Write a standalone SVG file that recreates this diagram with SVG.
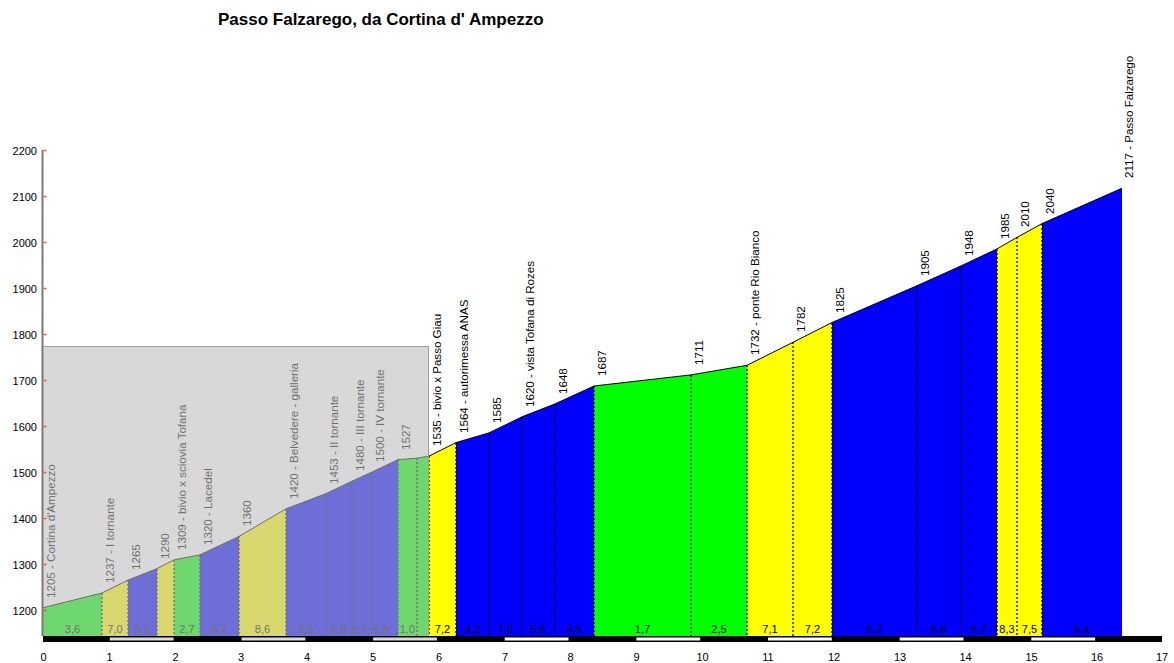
<svg xmlns="http://www.w3.org/2000/svg" width="1174" height="663" viewBox="0 0 1174 663">
<style>
text{font-family:"Liberation Sans",Arial,sans-serif;fill:#000}
.title{font-size:17px;font-weight:bold}
.yl{font-size:11px;text-anchor:end}
.xl{font-size:11px;text-anchor:middle}
.pl{font-size:11.6px}
.gl{font-size:11px;text-anchor:middle}
.g{fill:#00ff00}.y{fill:#ffff00}.b{fill:#0000ff}
.dot{stroke:#000;stroke-width:1.3;stroke-dasharray:2 2;fill:none}
.tick{stroke:#ff5050;stroke-width:1.5}
</style>
<rect width="1174" height="663" fill="#fff"/>
<text class="title" x="218" y="25">Passo Falzarego, da Cortina d' Ampezzo</text>

<g id="segments">
<polygon class="g" points="43,636 43,607.7 102,593 102,636"/>
<polygon class="y" points="102,636 102,593 128,580.1 128,636"/>
<polygon class="b" points="128,636 128,580.1 157,568.6 157,636"/>
<polygon class="y" points="157,636 157,568.6 174,559.9 174,636"/>
<polygon class="g" points="174,636 174,559.9 200,554.8 200,636"/>
<polygon class="b" points="200,636 200,554.8 239,536.4 239,636"/>
<polygon class="y" points="239,636 239,536.4 286,508.8 286,636"/>
<polygon class="b" points="286,636 286,508.8 326,493.6 352,481.2 372,472 398,459.6 398,636"/>
<polygon class="g" points="398,636 398,459.6 417,458.2 429,456.1 429,636"/>
<polygon class="y" points="429,636 429,456.1 456,442.6 456,636"/>
<polygon class="b" points="456,636 456,442.6 489,432.9 522,416.8 555,403.9 594,386 594,636"/>
<polygon class="g" points="594,636 594,386 691,374.9 747,365.3 747,636"/>
<polygon class="y" points="747,636 747,365.3 793,342.3 832,322.5 832,636"/>
<polygon class="b" points="832,636 832,322.5 917,285.7 961,265.9 997,248.9 997,636"/>
<polygon class="y" points="997,636 997,248.9 1017,237.4 1042,223.6 1042,636"/>
<polygon class="b" points="1042,636 1042,223.6 1122,188.2 1122,636"/>
</g>

<g id="connectors">
<polyline fill="none" stroke="#000" stroke-width="1" points="43,607.7 102,593 128,580.1 157,568.6 174,559.9 200,554.8 239,536.4 286,508.8 326,493.6 352,481.2 372,472 398,459.6 417,458.2 429,456.1 456,442.6 489,432.9 522,416.8 555,403.9 594,386 691,374.9 747,365.3 793,342.3 832,322.5 917,285.7 961,265.9 997,248.9 1017,237.4 1042,223.6 1122,188.2"/>
<path class="dot" d="M102,593V636M128,580V636M157,569V636M174,560V636M200,555V636M239,536V636M286,509V636M326,494V636M352,481V636M372,472V636M398,460V636M417,458V636M429,456V636M456,443V636M489,433V636M522,417V636M555,404V636M594,386V636M691,375V636M747,365V636M793,342V636M832,323V636M917,286V636M961,266V636M997,249V636M1017,237V636M1042,224V636"/>
</g>

<g id="point-labels" class="pl">
<text transform="translate(55,598) rotate(-90)">1205 - Cortina d'Ampezzo</text>
<text transform="translate(114,583) rotate(-90)">1237 - I tornante</text>
<text transform="translate(140,570) rotate(-90)">1265</text>
<text transform="translate(169,559) rotate(-90)">1290</text>
<text transform="translate(186,550) rotate(-90)">1309 - bivio x sciovia Tofana</text>
<text transform="translate(212,545) rotate(-90)">1320 - Lacedel</text>
<text transform="translate(251,526) rotate(-90)">1360</text>
<text transform="translate(298,499) rotate(-90)">1420 - Belvedere - galleria</text>
<text transform="translate(338,484) rotate(-90)">1453 - II tornante</text>
<text transform="translate(364,471) rotate(-90)">1480 - III tornante</text>
<text transform="translate(384,462) rotate(-90)">1500 - IV tornante</text>
<text transform="translate(410,450) rotate(-90)">1527</text>
<text transform="translate(441,446) rotate(-90)">1535 - bivio x Passo Giau</text>
<text transform="translate(468,433) rotate(-90)">1564 - autorimessa ANAS</text>
<text transform="translate(501,423) rotate(-90)">1585</text>
<text transform="translate(534,407) rotate(-90)">1620 - vista Tofana di Rozes</text>
<text transform="translate(567,394) rotate(-90)">1648</text>
<text transform="translate(606,376) rotate(-90)">1687</text>
<text transform="translate(703,365) rotate(-90)">1711</text>
<text transform="translate(759,355) rotate(-90)">1732 - ponte Rio Bianco</text>
<text transform="translate(805,332) rotate(-90)">1782</text>
<text transform="translate(844,313) rotate(-90)">1825</text>
<text transform="translate(929,276) rotate(-90)">1905</text>
<text transform="translate(973,256) rotate(-90)">1948</text>
<text transform="translate(1009,239) rotate(-90)">1985</text>
<text transform="translate(1029,227) rotate(-90)">2010</text>
<text transform="translate(1054,214) rotate(-90)">2040</text>
<text transform="translate(1133,178) rotate(-90)">2117 - Passo Falzarego</text>
</g>

<g id="gradient-labels" class="gl">
<text x="72.5" y="633">3,6</text>
<text x="115" y="633">7,0</text>
<text x="142.5" y="633">5,6</text>
<text x="187" y="633">2,7</text>
<text x="219.5" y="633">6,7</text>
<text x="262.5" y="633">8,6</text>
<text x="306" y="633">5,5</text>
<text x="339" y="633">6,8</text>
<text x="360" y="633">6,7</text>
<text x="381" y="633">6,8</text>
<text x="407.5" y="633">1,0</text>
<text x="442.5" y="633">7,2</text>
<text x="472.5" y="633">4,2</text>
<text x="505.5" y="633">7,0</text>
<text x="538" y="633">5,6</text>
<text x="574" y="633">6,5</text>
<text x="642.5" y="633">1,7</text>
<text x="719" y="633">2,5</text>
<text x="770" y="633">7,1</text>
<text x="812.5" y="633">7,2</text>
<text x="874.5" y="633">6,2</text>
<text x="939" y="633">6,6</text>
<text x="979" y="633">6,7</text>
<text x="1007" y="633">8,3</text>
<text x="1029.5" y="633">7,5</text>
<text x="1082" y="633">6,4</text>
</g>

<g id="overlay">
<rect x="43" y="346" width="385.5" height="290" fill="#bcbcbc" fill-opacity="0.584"/>
<path d="M43,346.5H428.5V636" fill="none" stroke="#a0a0a0" stroke-width="1"/>
</g>

<g id="y-axis">
<line x1="42.5" y1="150" x2="42.5" y2="636" stroke="#7a7a7a" stroke-width="2"/>
<path class="tick" d="M43.5,150.5h3M43.5,196.5h3M43.5,242.5h3M43.5,288.5h3M43.5,334.5h3M43.5,380.5h3M43.5,426.5h3M43.5,472.5h3M43.5,518.5h3M43.5,564.5h3M43.5,610.5h3"/>
<g class="yl">
<text x="37" y="155">2200</text>
<text x="37" y="201">2100</text>
<text x="37" y="247">2000</text>
<text x="37" y="293">1900</text>
<text x="37" y="339">1800</text>
<text x="37" y="385">1700</text>
<text x="37" y="431">1600</text>
<text x="37" y="477">1500</text>
<text x="37" y="523">1400</text>
<text x="37" y="569">1300</text>
<text x="37" y="615">1200</text>
</g>
</g>

<g id="x-axis">
<rect x="43" y="636" width="1119" height="6" fill="#000"/>
<g fill="#dcdcdc">
<rect x="109.8" y="637.5" width="63.8" height="3"/>
<rect x="241.5" y="637.5" width="63.8" height="3"/>
<rect x="373.1" y="637.5" width="63.8" height="3"/>
</g>
<g fill="#fff">
<rect x="504.7" y="637.5" width="63.8" height="3"/>
<rect x="636.4" y="637.5" width="63.8" height="3"/>
<rect x="768" y="637.5" width="63.8" height="3"/>
<rect x="899.7" y="637.5" width="63.8" height="3"/>
<rect x="1031.3" y="637.5" width="63.8" height="3"/>
</g>
<g class="xl">
<text x="43.5" y="661">0</text>
<text x="109.5" y="661">1</text>
<text x="175.5" y="661">2</text>
<text x="241" y="661">3</text>
<text x="307" y="661">4</text>
<text x="373" y="661">5</text>
<text x="439" y="661">6</text>
<text x="505" y="661">7</text>
<text x="570.5" y="661">8</text>
<text x="636.5" y="661">9</text>
<text x="702.5" y="661">10</text>
<text x="768" y="661">11</text>
<text x="834" y="661">12</text>
<text x="900" y="661">13</text>
<text x="965.5" y="661">14</text>
<text x="1031.5" y="661">15</text>
<text x="1097" y="661">16</text>
<text x="1162" y="661">17</text>
</g>
</g>
</svg>
